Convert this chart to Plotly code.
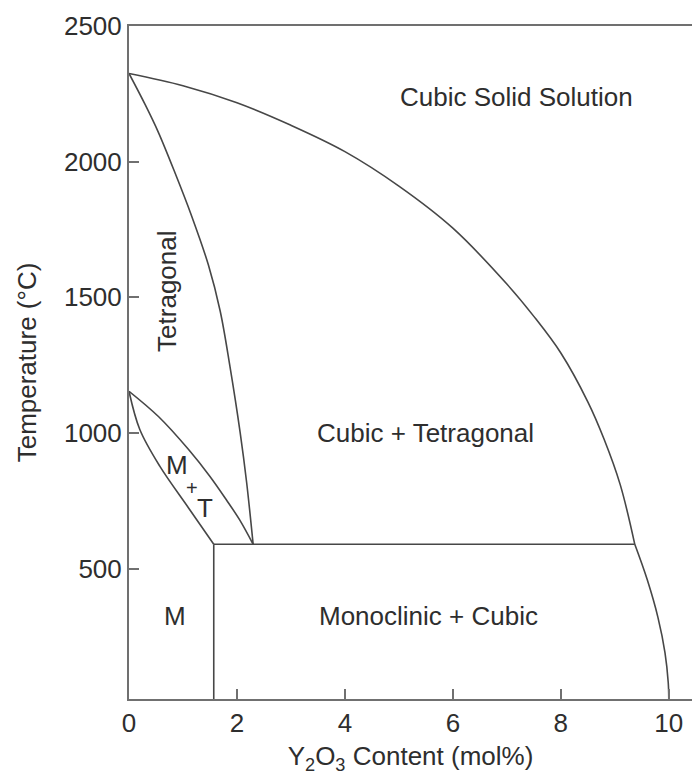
import plotly.graph_objects as go

# Boundary curves (Y2O3 mol%, temperature degC)
cubic_upper_x = [0.0, 1.0, 2.0, 3.0, 4.0, 5.0, 6.0, 7.0, 7.5, 8.0, 8.5, 8.8, 9.1, 9.37]
cubic_upper_T = [2325, 2280, 2217, 2134, 2037, 1910, 1755, 1549, 1430, 1295, 1115, 978, 810, 590]
cubic_lower_x = [9.37, 9.6, 9.8, 9.93, 9.99, 10.0]
cubic_lower_T = [590, 460, 320, 190, 80, 20]

tet_x = [0.0, 0.30, 0.54, 0.85, 1.16, 1.47, 1.69, 1.87, 2.06, 2.18, 2.30]
tet_T = [2325, 2210, 2110, 1960, 1800, 1620, 1449, 1246, 1001, 817, 590]

lens_upper_x = [0.0, 0.55, 1.10, 1.50, 1.80, 2.05, 2.30]
lens_upper_T = [1154, 1060, 940, 840, 755, 680, 590]
lens_lower_x = [0.0, 0.20, 0.57, 1.10, 1.57]
lens_lower_T = [1154, 1013, 878, 725, 590]

eutectoid_x = [1.57, 9.37]
eutectoid_T = [590, 590]
mono_x = [1.57, 1.57]
mono_T = [590, 20]

# Phase labels
label_text = ["Cubic Solid Solution", "Cubic + Tetragonal", "Monoclinic + Cubic", "M", "M", "T"]
label_x = [7.17, 5.5, 5.54, 0.88, 0.85, 1.41]
label_T = [2240, 1000, 325, 884, 325, 724]

x_ticks = [0, 2, 4, 6, 8, 10]
y_ticks = [500, 1000, 1500, 2000, 2500]

line_col = "#474747"
axis_col = "#707070"
text_col = "#2e2e2e"
font_family = "Liberation Sans, Arial, sans-serif"
fs = 26

fig = go.Figure()

def add_curve(xs, ys, spline=True):
    fig.add_trace(go.Scatter(
        x=xs, y=ys, mode="lines",
        line=dict(color=line_col, width=1.6, shape="spline" if spline else "linear", smoothing=1.0),
        showlegend=False, hoverinfo="skip"))

add_curve(cubic_upper_x, cubic_upper_T)
add_curve(cubic_lower_x, cubic_lower_T)
add_curve(tet_x, tet_T)
add_curve(lens_upper_x, lens_upper_T)
add_curve(lens_lower_x, lens_lower_T)
add_curve(eutectoid_x, eutectoid_T, spline=False)
add_curve(mono_x, mono_T, spline=False)

for t, x, y in zip(label_text, label_x, label_T):
    fig.add_annotation(x=x, y=y, xref="x", yref="y", text=t, showarrow=False,
                       font=dict(family=font_family, size=fs, color=text_col))

fig.add_annotation(x=1.16, y=798, xref="x", yref="y", text="+", showarrow=False,
                   font=dict(family=font_family, size=20, color=text_col))
fig.add_annotation(x=0.70, y=1523, xref="x", yref="y", text="Tetragonal", showarrow=False,
                   textangle=-90, font=dict(family=font_family, size=fs, color=text_col))

fig.update_layout(
    width=692, height=775,
    margin=dict(l=129, r=0, t=26, b=76),
    plot_bgcolor="white", paper_bgcolor="white",
    font=dict(family=font_family, size=fs, color=text_col),
    xaxis=dict(
        range=[0, 10.43], tickvals=x_ticks, ticktext=[str(v) for v in x_ticks],
        ticks="inside", ticklen=10, tickwidth=2, tickcolor=axis_col,
        showline=True, linecolor=axis_col, linewidth=2, mirror=True,
        showgrid=False, zeroline=False,
        title=dict(text="Y<sub>2</sub>O<sub>3</sub> Content (mol%)", standoff=10,
                   font=dict(size=fs, color=text_col)),
        tickfont=dict(size=fs, color=text_col),
    ),
    yaxis=dict(
        range=[20, 2500], tickvals=y_ticks, ticktext=[str(v) for v in y_ticks],
        ticks="inside", ticklen=10, tickwidth=2, tickcolor=axis_col,
        showline=True, linecolor=axis_col, linewidth=2, mirror=False,
        showgrid=False, zeroline=False,
        title=dict(text="Temperature (°C)", standoff=20,
                   font=dict(size=fs, color=text_col)),
        tickfont=dict(size=fs, color=text_col),
    ),
)

fig.write_html("out.html")
